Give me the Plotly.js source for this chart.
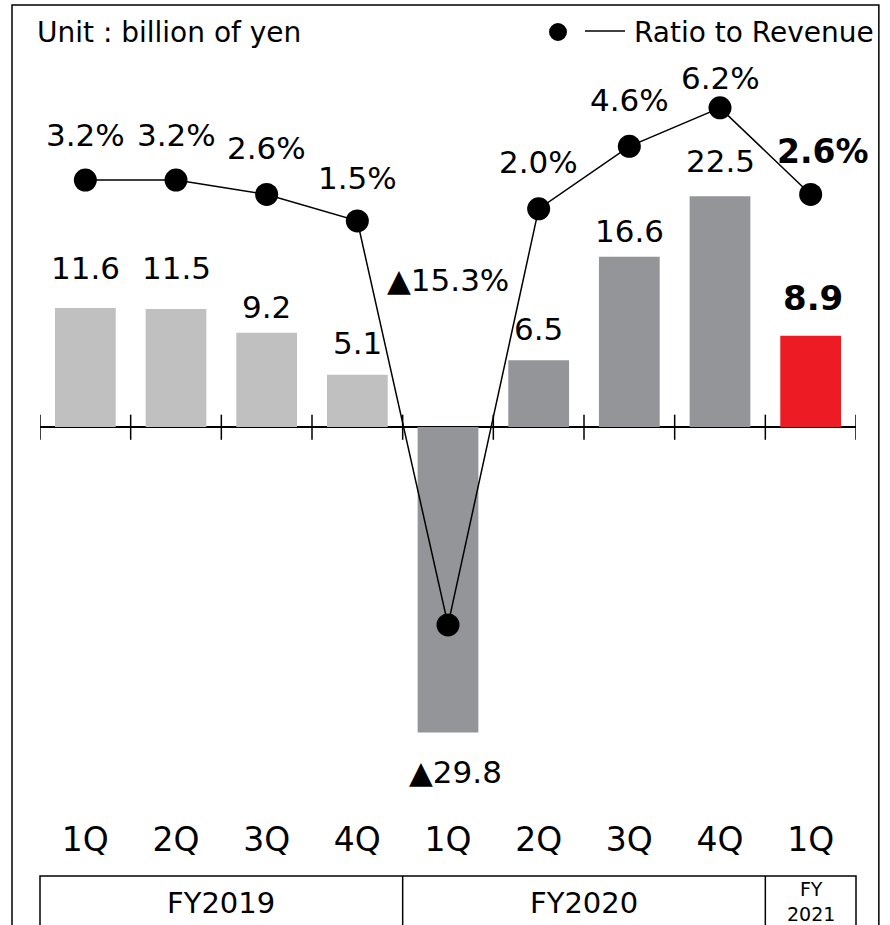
<!DOCTYPE html>
<html><head><meta charset="utf-8">
<script src="https://cdn.plot.ly/plotly-3.0.1.min.js"></script>
<style>body{margin:0;background:#fff}#chart{width:890px;height:925px}</style>
</head><body><div id="chart"></div>
<script>
// ---- data ----
const quarters = ['1Q','2Q','3Q','4Q','1Q','2Q','3Q','4Q','1Q'];
const profit = [11.6, 11.5, 9.2, 5.1, -29.8, 6.5, 16.6, 22.5, 8.9];
const ratio = [3.2, 3.2, 2.6, 1.5, -15.3, 2.0, 4.6, 6.2, 2.6];
const fiscalYears = ['FY2019','FY2020','FY<br>2021'];
const fyCenters = [1.5, 5.5, 8];
const fyBounds = [3.5, 7.5];
const unitText = 'Unit : billion of yen';
const seriesName = 'Ratio to Revenue';

// ---- style ----
const FONT = 'DejaVu Sans, Verdana, sans-serif';
const barColors = ['#c0c0c0','#c0c0c0','#c0c0c0','#c0c0c0','#939598','#939598','#939598','#939598','#ed1c24'];
const barLabelShift = [40,41,26,32,-40,31,26,35,38];
const barLabelXShift = [0,0,0,0,7,0,0,0,2];
const lineLabelShift = [45,45,46,43,345,47,46,30,43];
const lineLabelXShift = [0,0,0,0,0,0,0,0,12];
const lastIdx = quarters.length - 1;

function fmt(v, suffix){
  return (v < 0 ? '▲' : '') + Math.abs(v).toFixed(1) + suffix;
}

const xs = quarters.map((_, i) => i);

const traces = [
  {type:'bar', x:xs, y:profit, marker:{color:barColors}, width:0.67, hoverinfo:'skip', showlegend:false, yaxis:'y'},
  {type:'scatter', mode:'lines+markers', x:xs, y:ratio, yaxis:'y2', name:seriesName,
   line:{color:'#000', width:1.5}, marker:{color:'#000', size:23}, showlegend:false, hoverinfo:'skip'}
];

const annotations = [];
profit.forEach((v,i)=>{
  const bold = i === lastIdx;
  annotations.push({x:i, y:v, xref:'x', yref:'y', text: bold ? '<b>'+fmt(v,'')+'</b>' : fmt(v,''),
    showarrow:false, yshift:barLabelShift[i], xshift:barLabelXShift[i], yanchor:'middle',
    font:{family:FONT, size: bold ? 34 : 31, color:'#000'}});
});
ratio.forEach((v,i)=>{
  const bold = i === lastIdx;
  annotations.push({x:i, y:v, xref:'x', yref:'y2', text: bold ? '<b>'+fmt(v,'%')+'</b>' : fmt(v,'%'),
    showarrow:false, yshift:lineLabelShift[i], xshift:lineLabelXShift[i], yanchor:'middle',
    font:{family:FONT, size: bold ? 33 : 31, color:'#000'}});
});
fiscalYears.forEach((t,i)=>{
  const small = t.indexOf('<br>') >= 0;
  annotations.push({x:fyCenters[i], y: small ? -0.137 : -0.139, xref:'x', yref:'paper', text:t, showarrow:false,
    yanchor:'middle', font:{family:FONT, size: small ? 19 : 29, color:'#000'}});
});
annotations.push({x:-0.006, y:1.0365, xref:'paper', yref:'paper', text:unitText, showarrow:false,
  xanchor:'left', yanchor:'middle', font:{family:FONT, size:28, color:'#000'}});
annotations.push({x:1.0245, y:1.0365, xref:'paper', yref:'paper', text:seriesName, showarrow:false,
  xanchor:'right', yanchor:'middle', xpad:0, font:{family:FONT, size:28, color:'#000'}});

const shapes = [];
// tick marks at category boundaries along zero line
for (let i = 0; i <= quarters.length; i++) {
  shapes.push({type:'line', xref:'x', yref:'y', x0:i-0.5, x1:i-0.5, y0:1.2, y1:-1.25, line:{color:'#000', width:1.5}});
}
// legend symbol (marker + line)
shapes.push({type:'circle', xref:'paper', yref:'paper', x0:0.6238, x1:0.6458, y0:1.0257, y1:1.0500,
  fillcolor:'#000', line:{color:'#000', width:0}});
shapes.push({type:'line', xref:'paper', yref:'paper', x0:0.6679, x1:0.7169, y0:1.0392, y1:1.0392, line:{color:'#000', width:1.5}});
// outer frame
shapes.push({type:'rect', xref:'paper', yref:'paper', x0:-0.0343, x1:1.028, y0:-0.2, y1:1.0743, line:{color:'#000', width:1.5}});
// fiscal-year table
shapes.push({type:'rect', xref:'paper', yref:'paper', x0:0, x1:1, y0:-0.2, y1:-0.1027, line:{color:'#000', width:1.5}});
fyBounds.forEach(b=>{
  shapes.push({type:'line', xref:'x', yref:'paper', x0:b, x1:b, y0:-0.2, y1:-0.1027, line:{color:'#000', width:1.5}});
});

const layout = {
  width:890, height:925,
  margin:{l:40, r:34, t:60, b:125},
  paper_bgcolor:'#fff', plot_bgcolor:'#fff',
  font:{family:FONT, color:'#000'},
  bargap:0.33,
  xaxis:{range:[-0.5, 8.5], tickvals:xs, ticktext:quarters, ticks:'', showgrid:false, zeroline:false, showline:false,
         tickfont:{family:FONT, size:33, color:'#000'}, ticklabelstandoff:17, fixedrange:true},
  yaxis:{range:[-36.39, 35.80], showgrid:false, showticklabels:false, ticks:'', showline:false,
         zeroline:true, zerolinecolor:'#000', zerolinewidth:2, fixedrange:true},
  yaxis2:{range:[-22.58, 8.19], overlaying:'y', side:'right', showgrid:false, showticklabels:false, ticks:'',
          showline:false, zeroline:false, fixedrange:true},
  annotations:annotations,
  shapes:shapes,
  showlegend:false
};

Plotly.newPlot('chart', traces, layout, {displayModeBar:false, staticPlot:true});
</script></body></html>
